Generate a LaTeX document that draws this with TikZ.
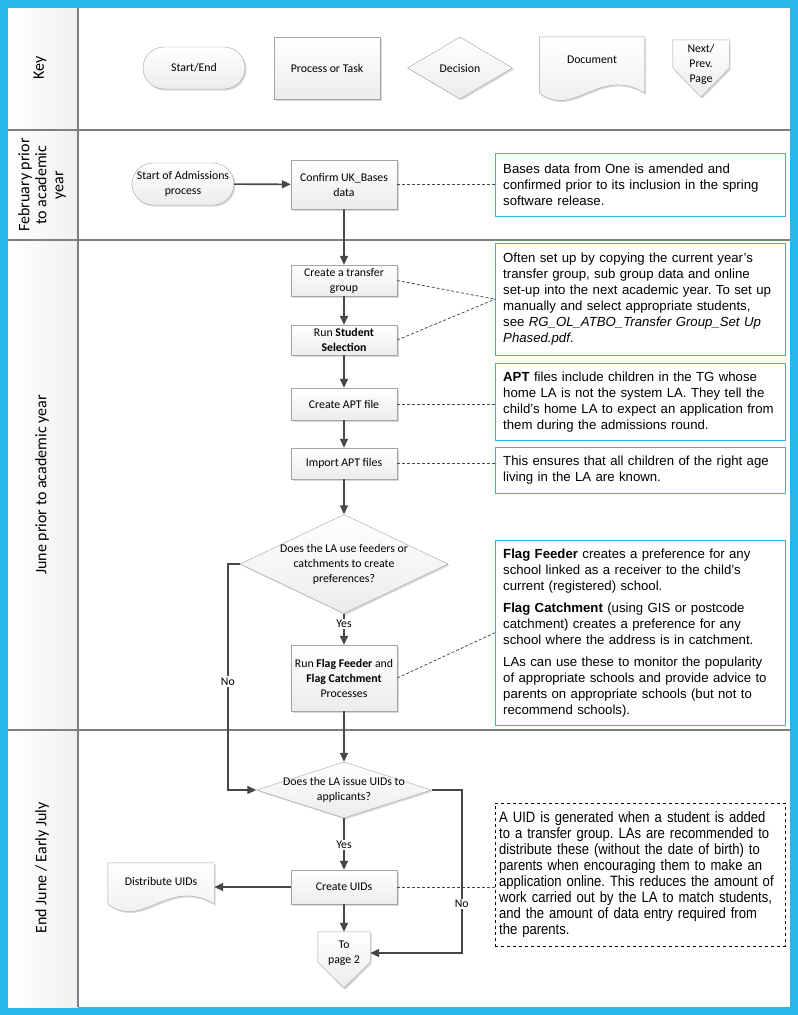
\documentclass[tikz,border=0pt]{standalone}
\usepackage{fontspec}
\setmainfont{Carlito}
\newfontfamily\notefont{Liberation Sans}
\newfontfamily\narrowfont{Liberation Sans}[FakeStretch=0.87]
\usetikzlibrary{arrows.meta,shapes.geometric,shapes.misc,shadows}

\definecolor{frameblue}{HTML}{29B6E9}
\definecolor{flowgray}{HTML}{474747}
\definecolor{lanegray}{HTML}{7F7F7F}
\definecolor{edgegray}{HTML}{A5A5A5}

\pgfdeclarelayer{background}
\pgfsetlayers{background,main}

\tikzset{
  boxfill/.style={draw=edgegray, top color=white, bottom color=gray!15,
    drop shadow={shadow xshift=1.5pt, shadow yshift=-1.5pt, opacity=0.3}},
  chartfont/.style={font=\fontsize{11.8}{15}\selectfont},
  proc/.style={rectangle, boxfill, chartfont, align=center,
    minimum width=106pt, minimum height=31pt, inner sep=2pt},
  term/.style={rounded rectangle, boxfill, chartfont, align=center,
    minimum width=106pt, minimum height=42pt, inner sep=2pt},
  decision/.style={diamond, aspect=3, boxfill, chartfont, align=center,
    inner xsep=0pt, inner ysep=-12pt},
  textonly/.style={chartfont, align=center, inner sep=0pt},
  note/.style={rectangle, draw=frameblue, fill=white, anchor=north west,
    text width=274pt, inner xsep=8pt, align=left,
    font=\notefont\fontsize{13.2}{16}\selectfont},
  flow/.style={draw=flowgray, line width=1.6pt, ->},
  tie/.style={draw=flowgray, line width=0.75pt, dash pattern=on 3pt off 2pt},
  lane/.style={draw=lanegray, line width=1.5pt},
  lanetitle/.style={rotate=90, align=center, font=\fontsize{16}{17}\selectfont},
  answer/.style={fill=white, inner sep=1.5pt, chartfont}
}

% document symbol: wavy foot hanging #2 below the node
\newcommand\docoutline[2]{%
  \begin{pgfonlayer}{background}
    \draw[boxfill] (#1.north west) -- (#1.north east) -- ([yshift=-#2pt]#1.south east)
      .. controls +(-45,-28) and +(35,26) .. ([yshift=-#2pt]#1.south west) -- cycle;
  \end{pgfonlayer}}
% off-page symbol: sides stop #2 above the foot, tip #3 below it
\newcommand\pageoutline[3]{%
  \begin{pgfonlayer}{background}
    \draw[boxfill] (#1.north west) -- (#1.north east) -- ([yshift=#2pt]#1.south east)
      -- ([yshift=-#3pt]#1.south) -- ([yshift=#2pt]#1.south west) -- cycle;
  \end{pgfonlayer}}

\begin{document}
\frenchspacing
\begin{tikzpicture}[x=1pt, y=-1pt, >={Triangle[length=9pt,width=8pt]}]
  % frame and swim lanes
  \begin{pgfonlayer}{background}
    \fill[frameblue] (0,0) rectangle (798,1015);
    \fill[white] (8,8) rectangle (790,1007);
    \shade[left color=white, right color=gray!12] (8,8) rectangle (78,1007);
    \draw[lane] (78,8) -- (78,1007);
    \foreach \y in {130,240,730}
      \draw[lane] (8,\y) -- (790,\y);
  \end{pgfonlayer}
  \useasboundingbox (0,0) rectangle (798,1015);

  \node[lanetitle] (tkey) at (40,68) {Key};
  \node[lanetitle] (tfeb) at (42,185) {February prior\\to academic\\year};
  \node[lanetitle] (tjune) at (42,485) {June prior to academic year};
  \node[lanetitle] (tjuly) at (42,868) {End June / Early July};

  % key
  \node[term] (kterm) at (194,68) {Start/End};
  \node[proc, minimum height=62pt] (kproc) at (327,68) {Process or Task};
  \node[decision, minimum width=105pt, minimum height=62pt] (kdec) at (460,68) {Decision};
  \node[textonly, minimum width=105pt, minimum height=46pt] (kdoc) at (592,60) {Document};
  \docoutline{kdoc}{10}
  \node[textonly, minimum width=56pt, minimum height=48pt] (kpage) at (701,64) {Next/\\Prev.\\Page};
  \pageoutline{kpage}{20}{9}

  % February
  \node[term] (start) at (183,184) {Start of Admissions\\process};
  \node[proc, minimum height=49pt] (confirm) at (344,184.5) {Confirm UK\_Bases\\data};
  \node[note, minimum height=63pt] (nbases) at (495,153)
    {Bases data from One is amended and\\confirmed prior to its inclusion in the spring\\software release.};

  % June
  \node[proc] (transfer) at (344,280.5) {Create a transfer\\group};
  \node[proc, minimum height=30pt] (selection) at (344,340) {Run \textbf{Student}\\\textbf{Selection}};
  \node[proc, minimum height=32pt] (apt) at (344,404) {Create APT file};
  \node[proc] (import) at (344,463.5) {Import APT files};
  \node[decision, minimum width=208pt, minimum height=99pt] (q1) at (344,564)
    {Does the LA use feeders or\\catchments to create\\preferences?};
  \node[proc, minimum height=66pt] (flag) at (344,678)
    {Run \textbf{Flag Feeder} and\\\textbf{Flag Catchment}\\Processes};

  \node[note, minimum height=112pt] (ngroup) at (495,243)
    {Often set up by copying the current year’s\\transfer group, sub group data and online\\set-up into the next academic year. To set up\\manually and select appropriate students,\\see \textit{RG\_OL\_ATBO\_Transfer Group\_Set Up}\\\textit{Phased.pdf}.};
  \node[note, minimum height=77pt] (napt) at (495,363)
    {\textbf{APT} files include children in the TG whose\\home LA is not the system LA. They tell the\\child’s home LA to expect an application from\\them during the admissions round.};
  \node[note, minimum height=46pt] (nimport) at (495,447)
    {This ensures that all children of the right age\\living in the LA are known.};
  \node[note, minimum height=185pt] (nflag) at (495,540)
    {\textbf{Flag Feeder} creates a preference for any\\school linked as a receiver to the child’s\\current (registered) school.\\[6pt]
     \textbf{Flag Catchment} (using GIS or postcode\\catchment) creates a preference for any\\school where the address is in catchment.\\[6pt]
     LAs can use these to monitor the popularity\\of appropriate schools and provide advice to\\parents on appropriate schools (but not to\\recommend schools).};

  % end of June
  \node[decision, minimum width=175pt, minimum height=56pt] (q2) at (344,790)
    {Does the LA issue UIDs to\\applicants?};
  \node[proc, minimum height=34pt] (uids) at (344,887) {Create UIDs};
  \node[textonly, minimum width=106pt, minimum height=36pt] (dist) at (161,881) {Distribute UIDs};
  \docoutline{dist}{5}
  \node[textonly, minimum width=52pt, minimum height=42pt] (page) at (344,953) {To\\page 2};
  \pageoutline{page}{12}{14}
  \node[note, draw=black, dashed, minimum height=143pt, text width=282pt, inner xsep=4pt,
        font=\narrowfont\fontsize{15}{16}\selectfont] (nuid) at (495,803)
    {A UID is generated when a student is added\\to a transfer group. LAs are recommended to\\distribute these (without the date of birth) to\\parents when encouraging them to make an\\application online. This reduces the amount of\\work carried out by the LA to match students,\\and the amount of data entry required from\\the parents.};

  % flow
  \draw[flow] (start) -- (confirm);
  \draw[flow] (confirm) -- (transfer);
  \draw[flow] (transfer) -- (selection);
  \draw[flow] (selection) -- (apt);
  \draw[flow] (apt) -- (import);
  \draw[flow] (import) -- (q1);
  \draw[flow] (q1.south) -- node[answer, pos=0.33] {Yes} (flag.north);
  \draw[flow] (q1.west) -- ++(-12,0) |- node[answer, pos=0.26] {No} (q2.west);
  \draw[flow] (flag) -- (q2);
  \draw[flow] (q2.south) -- node[answer, pos=0.52] {Yes} (uids.north);
  \draw[flow] (q2.east) -- ++(30,0) |- node[answer, pos=0.35] {No} (page.east);
  \draw[flow] (uids.west) -- (uids.west -| dist.east);
  \draw[flow] (uids) -- (page);

  % notes
  \draw[tie] (confirm.east) -- (confirm.east -| nbases.west);
  \draw[tie] (transfer.east) -- (ngroup.west);
  \draw[tie] (selection.east) -- (ngroup.west);
  \draw[tie] (apt.east) -- (apt.east -| napt.west);
  \draw[tie] (import.east) -- (import.east -| nimport.west);
  \draw[tie] (flag.east) -- (nflag.west);
  \draw[tie] (uids.east) -- (uids.east -| nuid.west);
\end{tikzpicture}
\end{document}
